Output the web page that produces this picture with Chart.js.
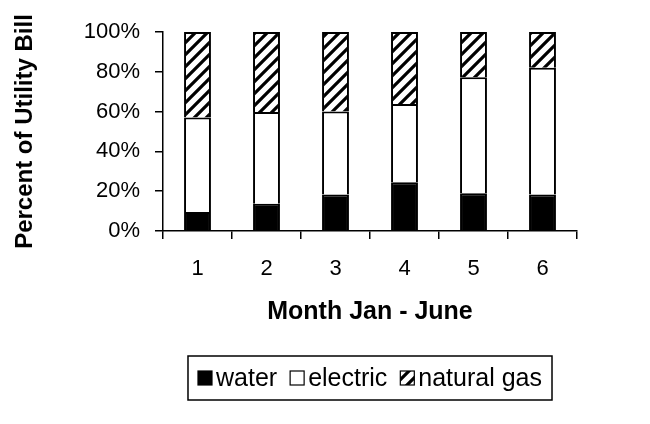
<!DOCTYPE html>
<html>
<head>
<meta charset="utf-8">
<script src="https://cdn.jsdelivr.net/npm/chart.js@4.4.1/dist/chart.umd.min.js"></script>
<style>
  html, body { margin: 0; padding: 0; background: #fff; }
</style>
</head>
<body>
<canvas id="bill-chart" width="650" height="424"></canvas>
<script>
const MONTHS = ['1', '2', '3', '4', '5', '6'];
const WATER = [9.5, 13.7, 18.4, 24.5, 19, 18.4];
const ELECTRIC = [47.5, 46.1, 41.6, 39.3, 58.2, 63.6];
const NATURAL_GAS = [43, 40.2, 40, 36.2, 22.8, 18];
const Y_TICKS = [0, 20, 40, 60, 80, 100];

const FONT = '"Liberation Sans", Arial, sans-serif';

// diagonal hatch for natural gas
function makeHatch() {
    const s = 12;
    const c = document.createElement('canvas');
    c.width = s; c.height = s;
    const g = c.getContext('2d');
    g.fillStyle = '#fff';
    g.fillRect(0, 0, s, s);
    g.strokeStyle = '#000';
    g.lineWidth = 3.2;
    g.beginPath();
    g.moveTo(0, s); g.lineTo(s, 0);
    g.moveTo(-2, 2); g.lineTo(2, -2);
    g.moveTo(s - 2, s + 2); g.lineTo(s + 2, s - 2);
    g.stroke();
    return g.createPattern(c, 'repeat');
}
const hatch = makeHatch();

// legend with a frame round it, like the old office charts
const boxLegend = {
    id: 'boxLegend',
    afterDraw(chart) {
        const ctx = chart.ctx;
        const items = chart.data.datasets.map(ds => ({ text: ds.label, fill: ds.backgroundColor }));
        ctx.save();
        ctx.font = '25px ' + FONT;
        const box = 14, gapText = 4, gapItem = 13, padX = 10;
        let total = 0;
        items.forEach((it, i) => {
            it.w = ctx.measureText(it.text).width;
            total += box + gapText + it.w + (i ? gapItem : 0);
        });
        const cx = (chart.chartArea.left + chart.chartArea.right) / 2;
        const cy = chart.height - 46;
        const left = cx - total / 2 - padX;
        ctx.strokeStyle = '#000';
        ctx.lineWidth = 1.5;
        ctx.strokeRect(left, cy - 22, total + 2 * padX, 44);
        let x = left + padX;
        ctx.textBaseline = 'middle';
        ctx.textAlign = 'left';
        items.forEach(it => {
            ctx.fillStyle = it.fill;
            ctx.fillRect(x, cy - box / 2, box, box);
            ctx.lineWidth = 1.2;
            ctx.strokeRect(x, cy - box / 2, box, box);
            x += box + gapText;
            ctx.fillStyle = '#000';
            ctx.fillText(it.text, x, cy + 1);
            x += it.w + gapItem;
        });
        ctx.restore();
    }
};

// bottom edge skipped so stacked segments share a single line
const segment = { borderColor: '#000', borderWidth: 2, borderSkipped: 'start',
                  categoryPercentage: 1, barPercentage: 0.39 };

const chart = new Chart(document.getElementById('bill-chart'), {
    type: 'bar',
    data: {
        labels: MONTHS,
        datasets: [
            { label: 'water', data: WATER, backgroundColor: '#000', ...segment },
            { label: 'electric', data: ELECTRIC, backgroundColor: '#fff', ...segment },
            { label: 'natural gas', data: NATURAL_GAS, backgroundColor: hatch, ...segment }
        ]
    },
    options: {
        animation: false, responsive: false, maintainAspectRatio: false,
        layout: { padding: { top: 32, right: 73, bottom: 69, left: 0 } },
        scales: {
            x: {
                stacked: true,
                afterFit: s => { s.height = 124; },
                grid: { drawOnChartArea: false, color: '#000', lineWidth: 1.5, tickLength: 8 },
                border: { color: '#000', width: 1.5 },
                ticks: { color: '#000', font: { family: FONT, size: 22 }, padding: 17 },
                title: { display: true, text: 'Month Jan - June', color: '#000',
                         font: { family: FONT, size: 25, weight: 'bold' }, padding: { top: 0, bottom: 28 } }
            },
            y: {
                stacked: true, min: 0, max: 100,
                afterFit: s => { s.width = 163; },
                afterBuildTicks: s => { s.ticks = Y_TICKS.map(v => ({ value: v })); },
                grid: { drawOnChartArea: false, color: '#000', lineWidth: 1.5, tickLength: 8 },
                border: { color: '#000', width: 1.5 },
                ticks: { color: '#000', font: { family: FONT, size: 22 }, padding: 15,
                         callback: v => v + '%' },
                title: { display: true, text: 'Percent of Utility Bill', color: '#000',
                         font: { family: FONT, size: 24, weight: 'bold' }, padding: { top: 11, bottom: 0 } }
            }
        },
        plugins: { legend: { display: false }, tooltip: { enabled: false } }
    },
    plugins: [boxLegend]
});
</script>
</body>
</html>
